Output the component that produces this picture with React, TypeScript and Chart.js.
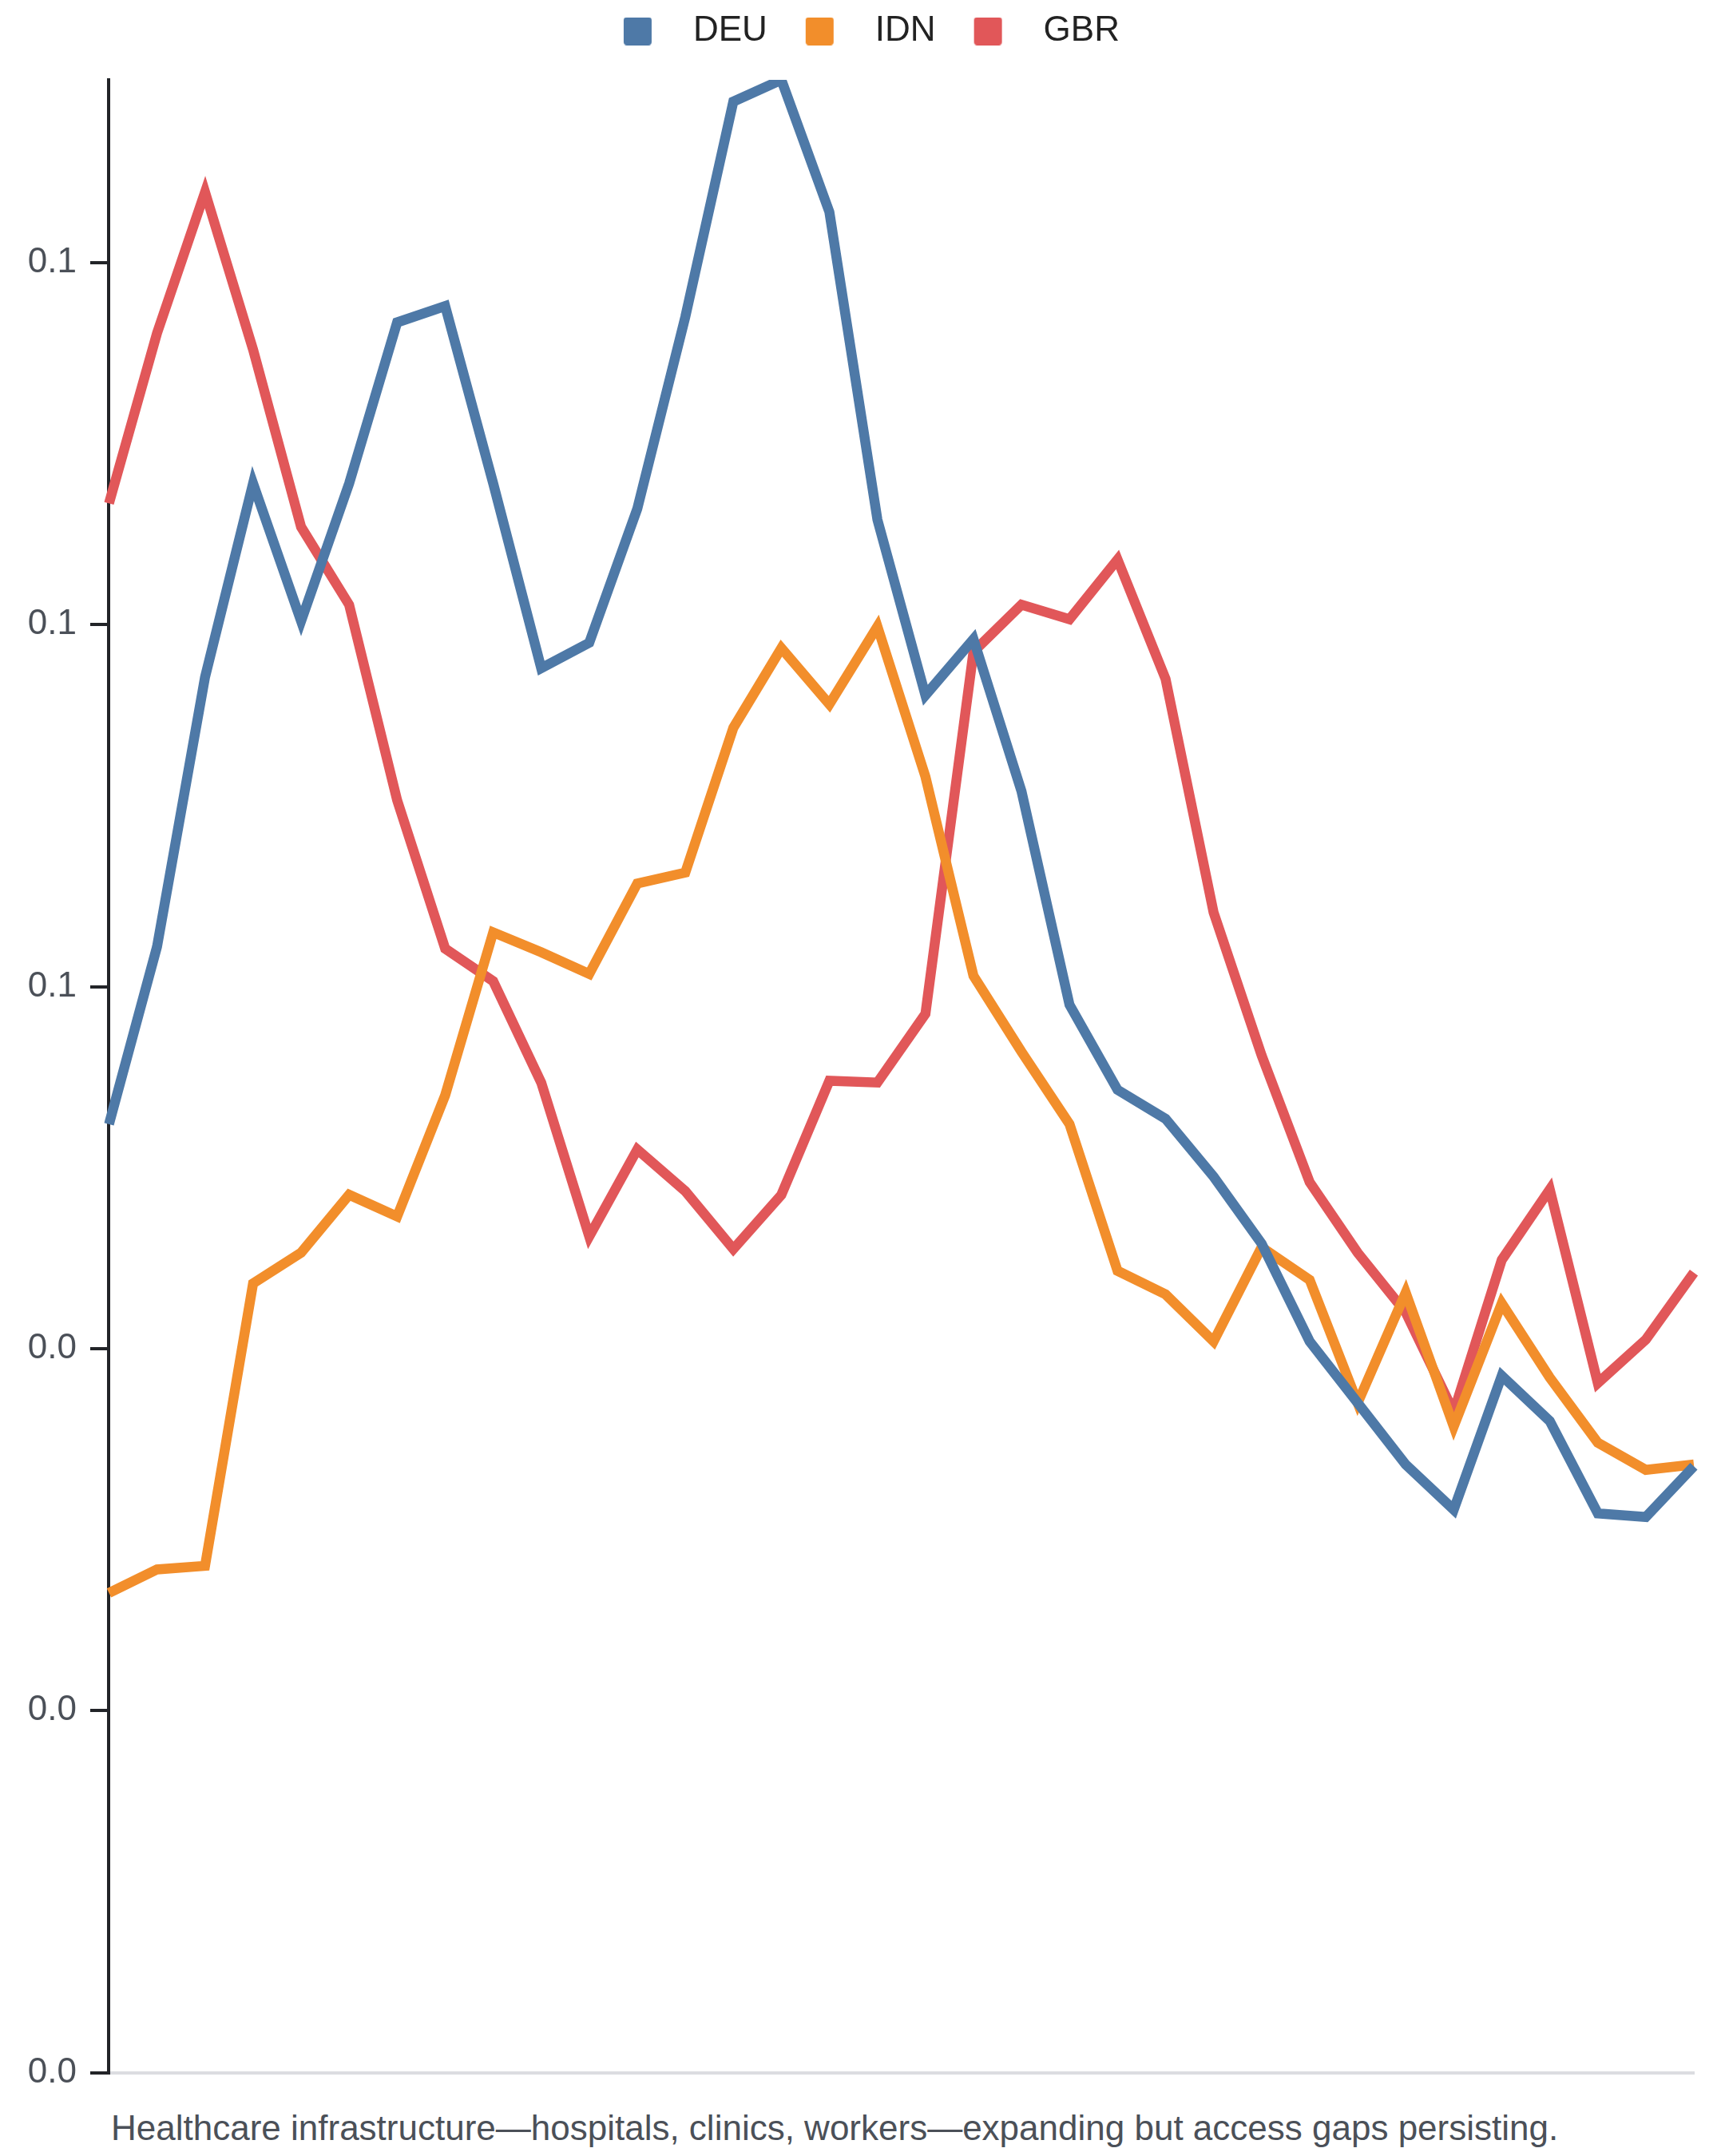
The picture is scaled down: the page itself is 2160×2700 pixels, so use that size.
import React, { useEffect, useRef } from "react";
import { Chart, registerables } from "chart.js";

Chart.register(...registerables);

const categories = [
  "1990", "1991", "1992", "1993", "1994", "1995", "1996", "1997", "1998", "1999",
  "2000", "2001", "2002", "2003", "2004", "2005", "2006", "2007", "2008", "2009",
  "2010", "2011", "2012", "2013", "2014", "2015", "2016", "2017", "2018", "2019",
  "2020", "2021", "2022", "2023",
];

const seriesNames = ["DEU", "IDN", "GBR"];

const deuValues = [
  0.0524, 0.0622, 0.0771, 0.0878, 0.0802, 0.0878, 0.0967, 0.0976, 0.0878, 0.0776,
  0.079, 0.0864, 0.097, 0.1089, 0.1101, 0.1028, 0.0858, 0.0761, 0.0792, 0.0708,
  0.059, 0.0543, 0.0527, 0.0495, 0.0458, 0.0404, 0.037, 0.0336, 0.0311, 0.0385,
  0.036, 0.0309, 0.0307, 0.0335,
];

const idnValues = [
  0.0265, 0.0278, 0.028, 0.0436, 0.0453, 0.0485, 0.0473, 0.054, 0.063, 0.0619,
  0.0607, 0.0657, 0.0663, 0.0743, 0.0787, 0.0756, 0.0799, 0.0716, 0.0606, 0.0564,
  0.0524, 0.0443, 0.043, 0.0404, 0.0456, 0.0438, 0.037, 0.0431, 0.0357, 0.0425,
  0.0384, 0.0348, 0.0333, 0.0336,
];

const gbrValues = [
  0.0867, 0.0961, 0.1039, 0.0952, 0.0854, 0.0811, 0.0703, 0.0621, 0.0603, 0.0547,
  0.0462, 0.051, 0.0487, 0.0455, 0.0485, 0.0548, 0.0547, 0.0585, 0.0785, 0.0811,
  0.0803, 0.0836, 0.077, 0.0641, 0.0562, 0.0492, 0.0453, 0.042, 0.0365, 0.0449,
  0.0488, 0.0381, 0.0405, 0.0442,
];

const seriesColors = ["#4e79a7", "#f28e2b", "#e15759"];

const yTickStep = 0.02;

const caption =
  "Healthcare infrastructure\u2014hospitals, clinics, workers\u2014expanding but access gaps persisting.";

const FONT = "'Liberation Sans', Arial, Helvetica, sans-serif";

// legend marker: transparent lead-in, 35px rounded square, transparent gap before the text
const MARKER_LEAD = 44;
const MARKER_BOX = 35;
const MARKER_TAIL = 30;

function makeMarker(color: string): HTMLCanvasElement {
  const c = document.createElement("canvas");
  c.width = MARKER_LEAD + MARKER_BOX + MARKER_TAIL;
  c.height = MARKER_BOX;
  const ctx = c.getContext("2d");
  if (ctx) {
    ctx.fillStyle = color;
    ctx.beginPath();
    if ((ctx as any).roundRect) {
      (ctx as any).roundRect(MARKER_LEAD, 0, MARKER_BOX, MARKER_BOX, 4);
    } else {
      ctx.rect(MARKER_LEAD, 0, MARKER_BOX, MARKER_BOX);
    }
    ctx.fill();
  }
  return c;
}

const legendSpacer = {
  id: "legendSpacer",
  beforeLayout(chart: any) {
    const legend = chart.legend;
    if (legend && !legend.__patched) {
      const origFit = legend.fit;
      legend.fit = function (this: any) {
        origFit.call(this);
        this.height += 29;
      };
      legend.__patched = true;
    }
  },
};

export default function App() {
  const canvasRef = useRef<HTMLCanvasElement | null>(null);

  useEffect(() => {
    if (!canvasRef.current) return;
    const allValues = [...deuValues, ...idnValues, ...gbrValues];
    const yMax = Math.max(...allValues);
    const valueSets = [deuValues, idnValues, gbrValues];
    const markers = seriesColors.map((c) => makeMarker(c));

    const chart = new Chart(canvasRef.current, {
      type: "line",
      data: {
        labels: categories,
        datasets: seriesNames.map((name, i) => ({
          label: name,
          data: valueSets[i],
          borderColor: seriesColors[i],
          backgroundColor: seriesColors[i],
          borderWidth: 12.5,
          pointRadius: 0,
          pointHoverRadius: 0,
          tension: 0,
          fill: false,
        })),
      },
      plugins: [legendSpacer],
      options: {
        animation: false,
        responsive: true,
        maintainAspectRatio: false,
        layout: {
          padding: { top: 5, left: 9.8, right: 31, bottom: 0 },
        },
        font: { family: FONT },
        plugins: {
          legend: {
            display: true,
            position: "top",
            align: "center",
            labels: {
              usePointStyle: true,
              pointStyleWidth: MARKER_LEAD + MARKER_BOX + MARKER_TAIL,
              boxHeight: MARKER_BOX,
              padding: 4,
              color: "#222222",
              font: { family: FONT, size: 44 },
              generateLabels: (ch: any) => {
                const items = (Chart.defaults.plugins.legend.labels as any).generateLabels(ch);
                return items.map((it: any, i: number) => ({
                  ...it,
                  pointStyle: markers[i],
                  lineWidth: 0,
                }));
              },
            },
          },
          title: { display: false },
          tooltip: { enabled: false },
        },
        scales: {
          x: {
            type: "category",
            offset: false,
            grid: { display: false, drawTicks: false },
            ticks: { display: false },
            border: { display: true, color: "#dcdde1", width: 4 },
          },
          y: {
            type: "linear",
            min: 0,
            max: yMax,
            grid: {
              display: true,
              drawOnChartArea: false,
              drawTicks: true,
              tickLength: 23.5,
              tickWidth: 4,
              tickColor: "#222428",
              lineWidth: 4,
              color: "#222428",
            },
            border: { display: true, color: "#222428", width: 4 },
            ticks: {
              stepSize: yTickStep,
              includeBounds: false,
              padding: 17,
              color: "#4b5058",
              font: { family: FONT, size: 44 },
              callback: (v: any) => Number(v).toFixed(1),
            },
          },
        },
      },
    });
    return () => chart.destroy();
  }, []);

  return (
    <div style={{ width: 2144 }}>
      <div style={{ position: "relative", width: 2144, height: 2631 }}>
        <canvas ref={canvasRef} />
      </div>
      <div
        style={{
          marginTop: 0,
          paddingLeft: 131,
          fontFamily: FONT,
          fontSize: 44,
          lineHeight: "52px",
          color: "#4b5058",
          whiteSpace: "nowrap",
        }}
      >
        {caption}
      </div>
    </div>
  );
}
